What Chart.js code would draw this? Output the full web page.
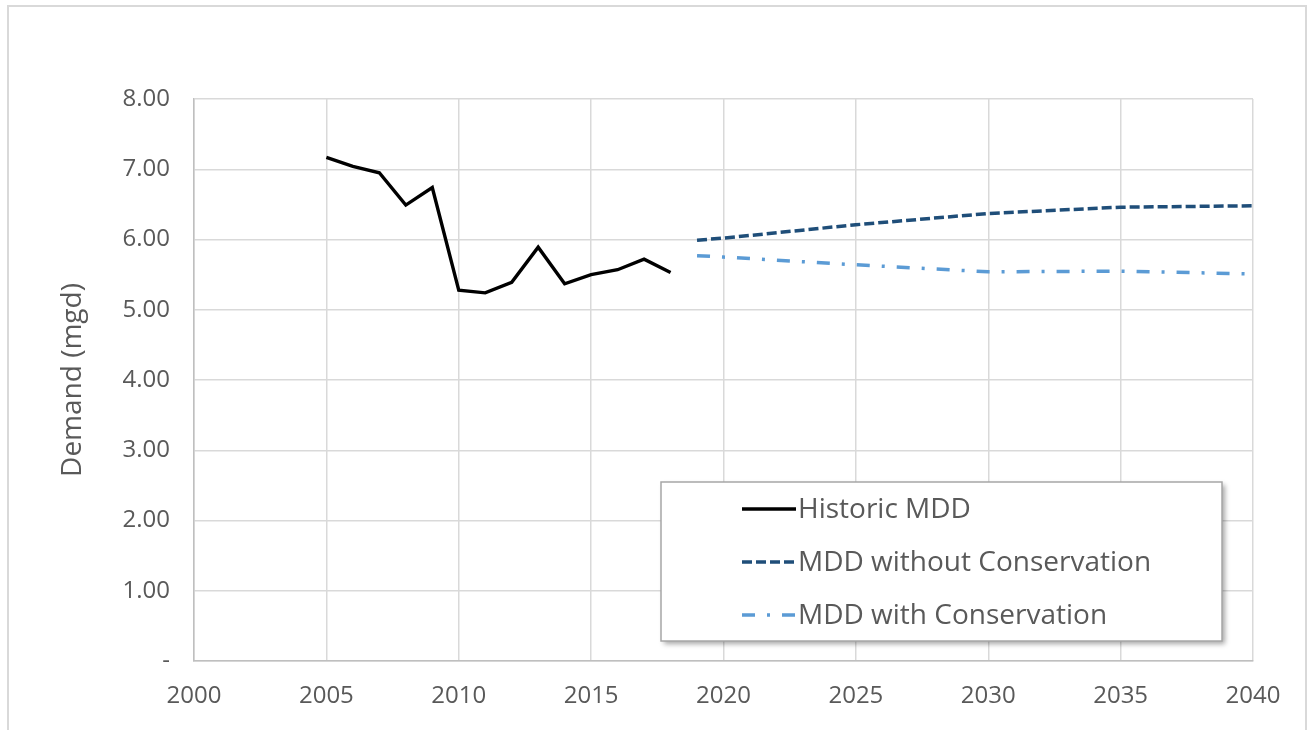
<!DOCTYPE html>
<html>
<head>
<meta charset="utf-8">
<script src="https://cdn.jsdelivr.net/npm/chart.js@4/dist/chart.umd.min.js"></script>
<style>
  html, body { margin: 0; padding: 0; background: #ffffff; }
  #wrap { width: 1307px; height: 730px; position: relative; }
</style>
</head>
<body>
<div id="wrap"><canvas id="c" width="1307" height="730"></canvas></div>
<script>
// ---- Data ----
const historicYears = [2005, 2006, 2007, 2008, 2009, 2010, 2011, 2012, 2013, 2014, 2015, 2016, 2017, 2018];
const historicMDD   = [7.17, 7.04, 6.95, 6.49, 6.74, 5.28, 5.24, 5.39, 5.89, 5.37, 5.50, 5.57, 5.72, 5.53];

const projYears          = [2019, 2020, 2025, 2030, 2035, 2040];
const mddNoConservation  = [5.99, 6.02, 6.21, 6.37, 6.46, 6.48];
const mddConservation    = [5.77, 5.75, 5.64, 5.54, 5.55, 5.51];

const seriesNames = ["Historic MDD", "MDD without Conservation", "MDD with Conservation"];
const yTickLabels = ["-", "1.00", "2.00", "3.00", "4.00", "5.00", "6.00", "7.00", "8.00"];
const xTickLabels = ["2000", "2005", "2010", "2015", "2020", "2025", "2030", "2035", "2040"];
const yAxisTitle = "Demand (mgd)";

const toPoints = (xs, ys) => xs.map((x, i) => ({ x: x, y: ys[i] }));

const FONT = "'Open Sans', 'Noto Sans', 'Liberation Sans', sans-serif";
const TEXT = "#595959";
const GRID = "#d9d9d9";

const frame = {
  id: 'frame',
  beforeDraw(chart) {
    const ctx = chart.ctx;
    ctx.save();
    ctx.strokeStyle = GRID;
    ctx.lineWidth = 2;
    ctx.beginPath();
    ctx.moveTo(8, 732);
    ctx.lineTo(8, 6);
    ctx.lineTo(1306, 6);
    ctx.lineTo(1306, 732);
    ctx.stroke();
    ctx.restore();
  }
};

const boxLegend = {
  id: 'boxLegend',
  afterDraw(chart) {
    const ctx = chart.ctx;
    const x0 = 661, y0 = 482, w = 561, h = 159;
    ctx.save();
    ctx.shadowColor = 'rgba(0,0,0,0.35)';
    ctx.shadowBlur = 5;
    ctx.shadowOffsetX = 3;
    ctx.shadowOffsetY = 3;
    ctx.fillStyle = '#ffffff';
    ctx.fillRect(x0, y0, w, h);
    ctx.shadowColor = 'transparent';
    ctx.strokeStyle = '#a6a6a6';
    ctx.lineWidth = 1.5;
    ctx.strokeRect(x0, y0, w, h);
    const rows = [509, 562, 615];
    chart.data.datasets.forEach((ds, i) => {
      const y = rows[i];
      ctx.beginPath();
      ctx.strokeStyle = ds.borderColor;
      ctx.lineWidth = ds.borderWidth;
      ctx.setLineDash(ds.borderDash || []);
      ctx.moveTo(742, y);
      ctx.lineTo(796, y);
      ctx.stroke();
      ctx.setLineDash([]);
      ctx.fillStyle = TEXT;
      ctx.font = "28px " + FONT;
      ctx.textBaseline = 'middle';
      ctx.textAlign = 'left';
      ctx.fillText(ds.label, 798, y + 1);
    });
    ctx.restore();
  }
};

new Chart(document.getElementById('c'), {
  type: 'line',
  data: {
    datasets: [
      {
        label: seriesNames[0],
        data: toPoints(historicYears, historicMDD),
        borderColor: '#000000',
        borderWidth: 3.4,
        pointRadius: 0,
        tension: 0,
        fill: false
      },
      {
        label: seriesNames[1],
        data: toPoints(projYears, mddNoConservation),
        borderColor: '#1f4e79',
        borderWidth: 3.5,
        borderDash: [10, 4],
        pointRadius: 0,
        tension: 0,
        fill: false
      },
      {
        label: seriesNames[2],
        data: toPoints(projYears, mddConservation),
        borderColor: '#5b9bd5',
        borderWidth: 3.5,
        borderDash: [13, 12, 3, 12],
        pointRadius: 0,
        tension: 0,
        fill: false
      }
    ]
  },
  options: {
    responsive: false,
    animation: false,
    devicePixelRatio: 1,
    layout: { padding: { top: 99, right: 54, bottom: 0, left: 0 } },
    plugins: {
      legend: { display: false },
      tooltip: { enabled: false },
      title: { display: false }
    },
    scales: {
      x: {
        type: 'linear',
        min: 2000,
        max: 2040,
        ticks: {
          stepSize: 5,
          color: TEXT,
          font: { family: FONT, size: 24 },
          padding: 21,
          maxRotation: 0,
          callback: (v) => xTickLabels[(v - 2000) / 5]
        },
        grid: { color: GRID, lineWidth: 1.5, drawTicks: false },
        border: { color: '#bfbfbf', width: 1.5 },
        afterFit: (s) => { s.height = 69; }
      },
      y: {
        min: 0,
        max: 8,
        ticks: {
          stepSize: 1,
          color: TEXT,
          font: { family: FONT, size: 24 },
          padding: 24,
          callback: (v) => yTickLabels[v]
        },
        grid: { color: GRID, lineWidth: 1.5, drawTicks: false },
        border: { color: '#bfbfbf', width: 1.5 },
        title: {
          display: true,
          text: yAxisTitle,
          color: TEXT,
          font: { family: FONT, size: 28 },
          padding: { top: 56, bottom: 0 }
        },
        afterFit: (s) => { s.width = 194; }
      }
    }
  },
  plugins: [frame, boxLegend]
});
</script>
</body>
</html>
